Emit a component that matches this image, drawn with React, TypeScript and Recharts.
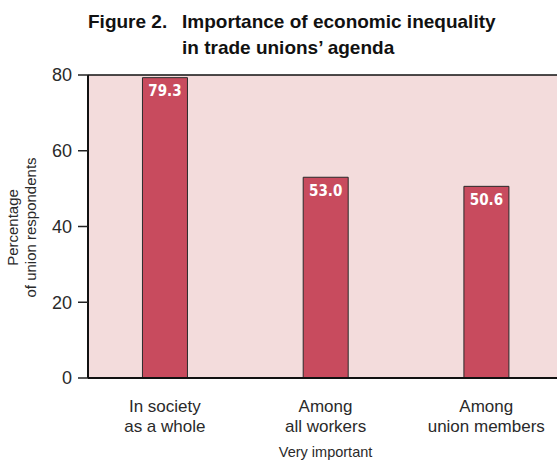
import React from "react";
import {
  BarChart,
  Bar,
  XAxis,
  YAxis,
  CartesianGrid,
  ReferenceLine,
  LabelList,
} from "recharts";

const categoryLines: string[][] = [
  ["In society", "as a whole"],
  ["Among", "all workers"],
  ["Among", "union members"],
];
const veryImportant: number[] = [79.3, 53.0, 50.6];
const yTicks: number[] = [0, 20, 40, 60, 80];
const titleLead = "Figure 2.";
const titleLine1 = "Importance of economic inequality";
const titleLine2 = "in trade unions\u2019 agenda";
const yLabelLines = ["Percentage", "of union respondents"];
const xLabel = "Very important";

const data = veryImportant.map((v, i) => ({ slot: i, value: v }));

const X_DOMAIN: [number, number] = [-0.478, 2.44];
const FONT = "'Liberation Sans', Arial, Helvetica, sans-serif";

const CategoryTick = (props: any) => {
  const { x, y, payload } = props;
  const lines = categoryLines[payload.value] || [];
  return (
    <text x={x} y={y} textAnchor="middle" fill="#2a2a2a" fontSize={17} fontFamily={FONT}>
      <tspan x={x} dy={34}>{lines[0]}</tspan>
      <tspan x={x} dy={20}>{lines[1]}</tspan>
    </text>
  );
};

const YLabel = (props: any) => {
  const { viewBox } = props;
  const cy = viewBox.y + viewBox.height / 2 + 1;
  const bx = 18;
  return (
    <text
      x={bx}
      y={cy}
      textAnchor="middle"
      fill="#2a2a2a"
      fontSize={15}
      fontFamily={FONT}
      transform={`rotate(-90, ${bx}, ${cy})`}
    >
      <tspan x={bx} dy={0}>{yLabelLines[0]}</tspan>
      <tspan x={bx} dy={18}>{yLabelLines[1]}</tspan>
    </text>
  );
};

const XLabel = (props: any) => {
  const { viewBox } = props;
  const cx = viewBox.x + ((1 - X_DOMAIN[0]) / (X_DOMAIN[1] - X_DOMAIN[0])) * viewBox.width;
  return (
    <text x={cx} y={457} textAnchor="middle" fill="#2a2a2a" fontSize={14.5} fontFamily={FONT}>
      {xLabel}
    </text>
  );
};

export default function App() {
  return (
    <div style={{ position: "absolute", left: 0, top: 0, width: 557, height: 462, overflow: "hidden", background: "#fff", fontFamily: FONT }}>
      <svg width={557} height={60} style={{ position: "absolute", left: 0, top: 0 }}>
        <text x={88} y={28} fontSize={19} fontWeight="bold" fill="#111" fontFamily={FONT}>{titleLead}</text>
        <text x={182} y={28} fontSize={19} fontWeight="bold" fill="#111" fontFamily={FONT}>{titleLine1}</text>
        <text x={182} y={54} fontSize={19} fontWeight="bold" fill="#111" fontFamily={FONT}>{titleLine2}</text>
      </svg>
      <div style={{ position: "absolute", left: 0, top: 0 }}>
        <BarChart width={557} height={462} data={data} margin={{ top: 75, right: 0, bottom: 0, left: 0 }}>
          <CartesianGrid fill="#f3dcdc" stroke="none" horizontal={false} vertical={false} />
          <XAxis
            type="number"
            dataKey="slot"
            domain={X_DOMAIN}
            allowDataOverflow
            ticks={[0, 1, 2]}
            interval={0}
            height={84}
            tickLine={false}
            tickSize={0}
            tickMargin={0}
            axisLine={{ stroke: "#111", strokeWidth: 2 }}
            tick={<CategoryTick />}
            label={<XLabel />}
          />
          <YAxis
            type="number"
            domain={[0, 80]}
            ticks={yTicks}
            width={88}
            tickSize={10}
            tickMargin={6}
            tickLine={{ stroke: "#222", strokeWidth: 1.5 }}
            axisLine={{ stroke: "#111", strokeWidth: 2 }}
            tick={{ fill: "#2a2a2a", fontSize: 18, fontFamily: FONT }}
            label={<YLabel />}
          />
          <ReferenceLine y={80} stroke="#111" strokeWidth={1.5} ifOverflow="visible" />
          <Bar dataKey="value" fill="#c84b5e" stroke="#2a2a2a" strokeWidth={1} barSize={45} isAnimationActive={false}>
            <LabelList
              dataKey="value"
              position="insideTop"
              offset={8}
              fill="#ffffff"
              fontSize={15}
              fontWeight="bold"
              fontFamily="'Liberation Sans Narrow', 'DejaVu Sans Condensed', sans-serif"
              formatter={(v: any) => Number(v).toFixed(1)}
            />
          </Bar>
        </BarChart>
      </div>
    </div>
  );
}
